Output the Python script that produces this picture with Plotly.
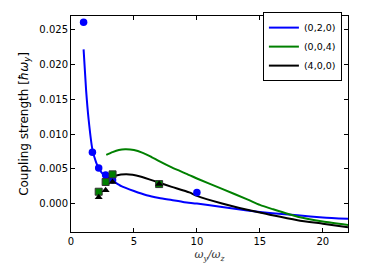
import plotly.graph_objects as go

# Curves
blue_x = [1.0, 1.2, 1.4, 1.7, 2.0, 2.2, 2.5, 2.75, 3.0, 3.3, 4.0, 5.0, 6.0, 7.0, 8.0, 9.0, 10.0, 12.0, 14.0, 16.0, 18.0, 20.0, 22.0]
blue_y = [0.0222, 0.0163, 0.0121, 0.0078, 0.0059, 0.0051, 0.0043, 0.0039, 0.0036, 0.0033, 0.0025, 0.0018, 0.0012, 0.0008, 0.0005, 0.0002, 0.0000, -0.0005, -0.0010, -0.0014, -0.0017, -0.0020, -0.0022]

green_x = [2.8, 3.3, 3.8, 4.3, 5.0, 5.7, 6.3, 7.0, 8.0, 9.4, 10.0, 12.0, 14.0, 15.0, 16.0, 18.0, 20.0, 22.0]
green_y = [0.0070, 0.0074, 0.0077, 0.0078, 0.0077, 0.0073, 0.0068, 0.0061, 0.0052, 0.0041, 0.0036, 0.0021, 0.0006, -0.0002, -0.0008, -0.0019, -0.0026, -0.0031]

black_x = [2.8, 3.5, 4.4, 5.5, 7.0, 8.0, 9.4, 10.0, 12.0, 14.0, 15.0, 16.0, 18.0, 20.0, 22.0]
black_y = [0.0036, 0.0040, 0.0042, 0.0039, 0.0030, 0.0024, 0.0016, 0.0011, 0.0000, -0.0009, -0.0013, -0.0017, -0.0024, -0.0029, -0.0034]

# Points
circ_x = [1.0, 1.7, 2.2, 2.75, 3.3, 10.0]
circ_y = [0.0261, 0.0074, 0.0051, 0.0041, 0.0034, 0.0016]
sq_x = [2.2, 2.75, 3.3, 7.0]
sq_y = [0.0017, 0.0031, 0.0042, 0.0028]
tri_x = [2.2, 2.75, 3.3, 7.0]
tri_y = [0.0009, 0.0019, 0.0031, 0.0028]

labels = ["(0,2,0)", "(0,0,4)", "(4,0,0)"]
BLUE, GREEN, BLACK = "#0000ff", "#008000", "#000000"

fig = go.Figure()
fig.add_trace(go.Scatter(x=blue_x, y=blue_y, mode="lines", name=labels[0],
                         line=dict(color=BLUE, width=2, shape="spline", smoothing=0.6)))
fig.add_trace(go.Scatter(x=green_x, y=green_y, mode="lines", name=labels[1],
                         line=dict(color=GREEN, width=2, shape="spline", smoothing=0.6)))
fig.add_trace(go.Scatter(x=black_x, y=black_y, mode="lines", name=labels[2],
                         line=dict(color=BLACK, width=2, shape="spline", smoothing=0.6)))
fig.add_trace(go.Scatter(x=circ_x, y=circ_y, mode="markers", showlegend=False,
                         marker=dict(symbol="circle", size=7.5, color=BLUE, line=dict(width=0))))
fig.add_trace(go.Scatter(x=sq_x, y=sq_y, mode="markers", showlegend=False,
                         marker=dict(symbol="square", size=7, color=GREEN, line=dict(width=1, color="#333333"))))
fig.add_trace(go.Scatter(x=tri_x, y=tri_y, mode="markers", showlegend=False,
                         marker=dict(symbol="triangle-up", size=7, color=BLACK, line=dict(width=0))))

axis_common = dict(showline=True, linecolor="black", linewidth=1, mirror="ticks",
                   ticks="inside", ticklen=4, tickcolor="black", showgrid=False,
                   zeroline=False, automargin=False,
                   tickfont=dict(family="DejaVu Sans", size=10, color="black"))

fig.update_xaxes(range=[0, 22], tickvals=[0, 5, 10, 15, 20],
                 title=dict(text="<i>ω<sub>y</sub>/ω<sub>z</sub></i>",
                            font=dict(family="DejaVu Serif", size=11, color="#333"), standoff=4),
                 **axis_common)
fig.update_yaxes(range=[-0.0041, 0.027], tickvals=[0, 0.005, 0.01, 0.015, 0.02, 0.025],
                 tickformat=".3f",
                 title=dict(text="Coupling strength [<i>ħω<sub>y</sub></i>]",
                            font=dict(family="DejaVu Sans", size=12, color="black"), standoff=8),
                 **axis_common)

fig.update_layout(
    width=366, height=274,
    margin=dict(l=71, r=18, t=13, b=42),
    paper_bgcolor="white", plot_bgcolor="white",
    legend=dict(x=0.978, y=1.018, xanchor="right", yanchor="top",
                bordercolor="black", borderwidth=1, bgcolor="white",
                font=dict(family="DejaVu Sans", size=9.5, color="black"),
                itemwidth=30, tracegroupgap=0),
)

fig.write_html("out.html", config={"displayModeBar": False},
               post_script="document.body.style.margin='0';")
